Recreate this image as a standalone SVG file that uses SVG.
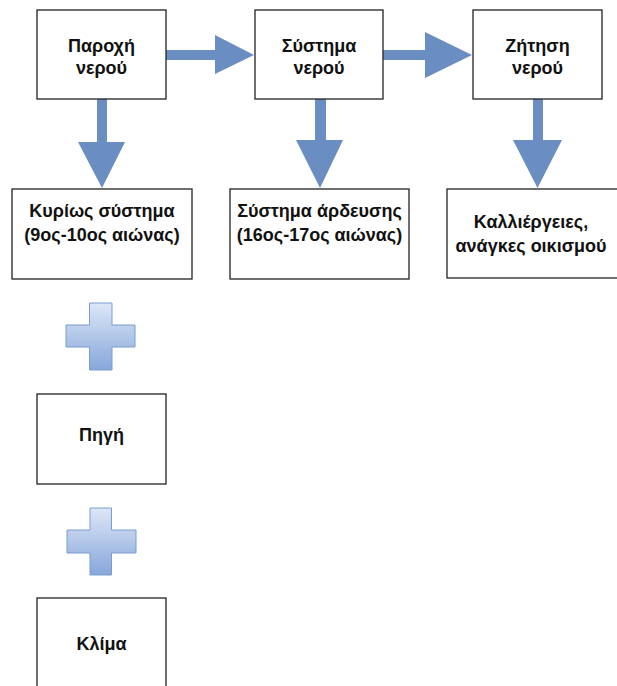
<svg xmlns="http://www.w3.org/2000/svg" width="617" height="686" viewBox="0 0 617 686">
<defs>
<linearGradient id="plusGrad" x1="0" y1="0" x2="0" y2="1">
<stop offset="0" stop-color="#dde7f7"/>
<stop offset="1" stop-color="#86a6da"/>
</linearGradient>
<style>
.box{fill:#fff;stroke:#222;stroke-width:1.3}
.t{font-family:"Liberation Sans",Arial,sans-serif;font-size:18px;font-weight:bold;fill:#111;text-anchor:middle}
.arr{fill:#6a8dc2}
.plus{fill:url(#plusGrad);stroke:#7b9ccf;stroke-width:1}
</style>
</defs>
<rect width="617" height="686" fill="#fff"/>
<g id="connectors">
<path class="arr" d="M166 50 H215 V35 L254 55 L215 74 V60 H166 Z"/>
<path class="arr" d="M383 50 H425 V32 L472 55 L425 78 V60 H383 Z"/>
<path class="arr" d="M97 99 V142 H78 L102 188 L125 142 H107 V99 Z"/>
<path class="arr" d="M315 99 V140 H296 L320 188 L343 140 H326 V99 Z"/>
<path class="arr" d="M533 99 V140 H513 L537.5 188 L562 140 H543 V99 Z"/>
</g>
<g id="n1"><rect class="box" x="37" y="10" width="129" height="89"/><text class="t" x="101.5" y="52">Παροχή</text><text class="t" x="101.5" y="74">νερού</text></g>
<g id="n2"><rect class="box" x="255" y="10" width="128" height="89"/><text class="t" x="319" y="52">Σύστημα</text><text class="t" x="319" y="74">νερού</text></g>
<g id="n3"><rect class="box" x="473" y="10" width="129" height="89"/><text class="t" x="537.5" y="52">Ζήτηση</text><text class="t" x="537.5" y="74">νερού</text></g>
<g id="n4"><rect class="box" x="12" y="189" width="180" height="90"/><text class="t" x="102" y="217">Κυρίως σύστημα</text><text class="t" x="102" y="241">(9ος-10ος αιώνας)</text></g>
<g id="n5"><rect class="box" x="230" y="189" width="179" height="90"/><text class="t" x="319.5" y="217">Σύστημα άρδευσης</text><text class="t" x="319.5" y="241">(16ος-17ος αιώνας)</text></g>
<g id="n6"><rect class="box" x="447" y="189" width="180" height="89"/><text class="t" x="531" y="228">Καλλιέργειες,</text><text class="t" x="531" y="252">ανάγκες οικισμού</text></g>
<g id="plus1"><path class="plus" d="M89.5 303 H112 V325 H135 V347 H112 V370 H89.5 V347 H66 V325 H89.5 Z"/></g>
<g id="n7"><rect class="box" x="37" y="394" width="129" height="90"/><text class="t" x="101.5" y="441">Πηγή</text></g>
<g id="plus2"><path class="plus" d="M90 508 H111.5 V530 H136 V553 H111.5 V575 H90 V553 H67 V530 H90 Z"/></g>
<g id="n8"><rect class="box" x="37" y="598" width="129" height="100"/><text class="t" x="101.5" y="650">Κλίμα</text></g>
</svg>
